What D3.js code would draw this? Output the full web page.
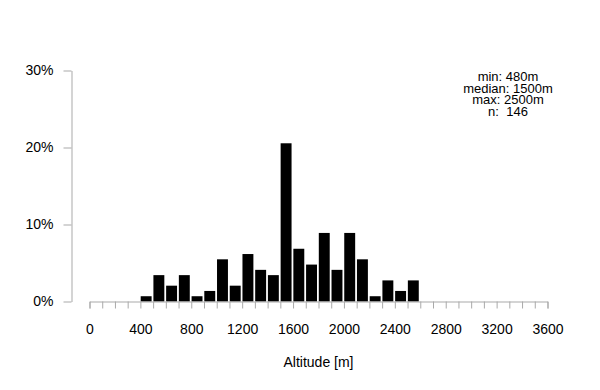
<!DOCTYPE html>
<html>
<head>
<meta charset="utf-8">
<script src="https://cdn.jsdelivr.net/npm/d3@7"></script>
<style>
  html, body { margin: 0; padding: 0; background: #fff; }
  svg { display: block; font-family: "Liberation Sans", Arial, sans-serif; }
</style>
</head>
<body>
<svg id="chart" width="600" height="390"></svg>
<script>
// Histogram bins (100 m wide), start altitude of each bin
const binStarts = [400, 500, 600, 700, 800, 900, 1000, 1100, 1200, 1300, 1400,
                   1500, 1600, 1700, 1800, 1900, 2000, 2100, 2200, 2300, 2400, 2500];
// Number of observations per bin
const counts = [1, 5, 3, 5, 1, 2, 8, 3, 9, 6, 5,
                30, 10, 7, 13, 6, 13, 8, 1, 4, 2, 4];
const binWidth = 100;
const nTotal = 146;
const xTickLabels = [0, 400, 800, 1200, 1600, 2000, 2400, 2800, 3200, 3600];
const xMinorTicks = d3.range(0, 3601, 100);
const yTickValues = [0, 0.1, 0.2, 0.3];
const statLines = ["min: 480m", "median: 1500m", "max: 2500m", "n:\u00a0 146"];
const xLabel = "Altitude [m]";

const svg = d3.select("#chart");
const x = d3.scaleLinear().domain([0, 3600]).range([89.5, 547.5]);
const y = d3.scaleLinear().domain([0, 0.3]).range([301.5, 70.5]);
const axisColor = "#a9a9a9";

// Bars
svg.append("g").selectAll("rect")
  .data(binStarts.map((b, i) => ({ b, p: counts[i] / nTotal })))
  .join("rect")
  .attr("x", d => x(d.b) + 0.3)
  .attr("width", d => x(d.b + binWidth) - x(d.b) - 1.8)
  .attr("y", d => y(d.p))
  .attr("height", d => y(0) - y(d.p))
  .attr("fill", "#000");

// X axis (minor ticks every 100 m, labels every 400 m)
const xAxisY = 301.5;
const gx = svg.append("g").attr("transform", `translate(0,${xAxisY})`);
gx.call(d3.axisBottom(x).tickValues(xMinorTicks).tickSize(7).tickFormat(""));
gx.select(".domain").attr("stroke", axisColor);
gx.selectAll(".tick line").attr("stroke", axisColor);
const gxl = svg.append("g").attr("transform", `translate(0,${xAxisY})`);
gxl.call(d3.axisBottom(x).tickValues(xTickLabels).tickSize(0).tickPadding(22.5)
  .tickFormat(d3.format("d")));
gxl.select(".domain").remove();
gxl.selectAll(".tick text").attr("font-size", 14).attr("fill", "#000")
  .attr("font-family", "Liberation Sans, Arial, sans-serif");

// Y axis
const gy = svg.append("g").attr("transform", "translate(71.5,0)");
gy.call(d3.axisLeft(y).tickValues(yTickValues).tickSize(8).tickPadding(10)
  .tickSizeOuter(0).tickFormat(d3.format(".0%")));
gy.select(".domain").attr("stroke", axisColor);
gy.selectAll(".tick line").attr("stroke", axisColor);
gy.selectAll(".tick text").attr("font-size", 14).attr("fill", "#000")
  .attr("font-family", "Liberation Sans, Arial, sans-serif");

// Axis title
svg.append("text")
  .attr("x", (x.range()[0] + x.range()[1]) / 2)
  .attr("y", 367)
  .attr("text-anchor", "middle")
  .attr("font-size", 14)
  .attr("fill", "#000")
  .text(xLabel);

// Summary statistics
svg.append("g").selectAll("text")
  .data(statLines)
  .join("text")
  .attr("x", 508)
  .attr("y", (d, i) => 81 + i * 11.7)
  .attr("text-anchor", "middle")
  .attr("font-size", 13)
  .attr("fill", "#000")
  .text(d => d);
</script>
</body>
</html>
